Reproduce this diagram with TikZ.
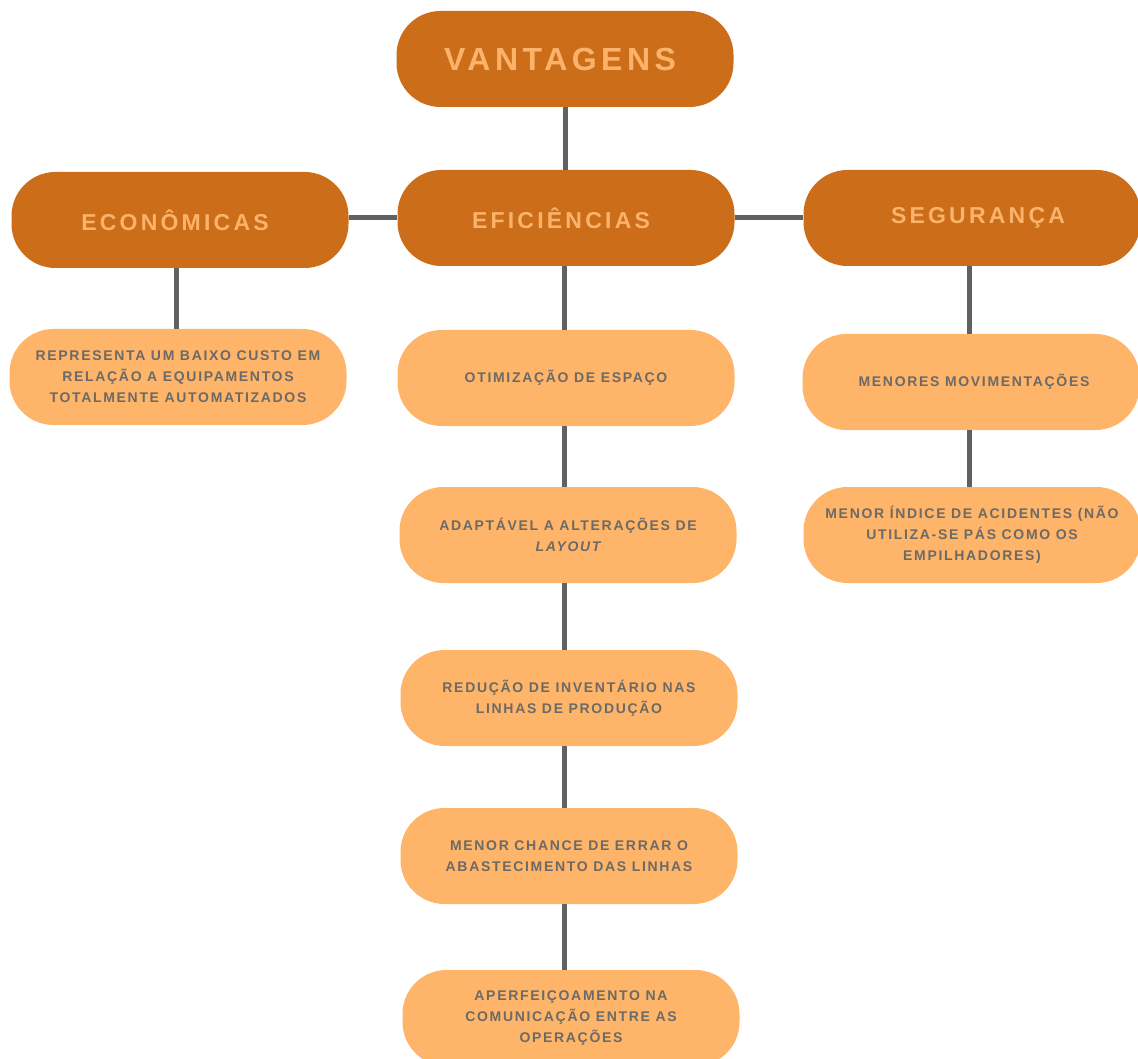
\documentclass[tikz,border=0pt]{standalone}
\usepackage{fontspec}
\newfontfamily\headfam[LetterSpace=14]{Liberation Sans}
\newfontfamily\itemfam[LetterSpace=12]{Liberation Sans}
\definecolor{darkor}{HTML}{CC6D19}
\definecolor{lightor}{HTML}{FEB469}
\definecolor{headtxt}{HTML}{FBB36C}
\definecolor{itemtxt}{HTML}{6C6A66}
\definecolor{linkcol}{HTML}{616161}
% pull the tracked heading text back to the optical centre
\newcommand{\trackfix}{\hspace*{10pt}}
\tikzset{
  pill/.style={rounded corners=44pt, minimum width=337pt, minimum height=96pt, inner sep=0pt, align=center},
  head/.style={pill, fill=darkor, text=headtxt, font=\headfam\bfseries\fontsize{23}{28}\selectfont},
  top/.style={head, font=\headfam\bfseries\fontsize{32}{38}\selectfont},
  item/.style={pill, fill=lightor, text=itemtxt, font=\itemfam\bfseries\fontsize{14}{21}\selectfont},
  link/.style={draw=linkcol, line width=5pt}
}
\begin{document}
\begin{tikzpicture}[x=1pt,y=-1pt]
  \useasboundingbox (0,0) rectangle (1138,1059);
  \clip (0,0) rectangle (1138,1059);

  % heading row
  \node[top]  (vant) at (565,59)  {VANTAGENS\trackfix};
  \node[head] (econ) at (180,220) {ECONÔMICAS\trackfix};
  \node[head] (efic) at (566,218) {EFICIÊNCIAS\trackfix};
  \node[head] (segu) at (972,218) {SEGURANÇA\hspace*{-12pt}};

  % economic column
  \node[item] (cust) at (178,377) {REPRESENTA UM BAIXO CUSTO EM\\RELAÇÃO A EQUIPAMENTOS\\TOTALMENTE AUTOMATIZADOS};

  % efficiency column
  \node[item] (otim) at (566,378) {OTIMIZAÇÃO DE ESPAÇO};
  \node[item] (adap) at (568,535) {ADAPTÁVEL A ALTERAÇÕES DE\\\itshape LAYOUT};
  \node[item] (redu) at (569,698) {REDUÇÃO DE INVENTÁRIO NAS\\LINHAS DE PRODUÇÃO};
  \node[item] (erro) at (569,856) {MENOR CHANCE DE ERRAR O\\ABASTECIMENTO DAS LINHAS};
  \node[item] (aper) at (571,1018) {APERFEIÇOAMENTO NA\\COMUNICAÇÃO ENTRE AS\\OPERAÇÕES};

  % safety column
  \node[item] (movi) at (971,382) {MENORES MOVIMENTAÇÕES\hspace*{-6pt}};
  \node[item] (acid) at (972,535) {MENOR ÍNDICE DE ACIDENTES (NÃO\\UTILIZA-SE PÁS COMO OS\\EMPILHADORES)};

  % links
  \draw[link] (vant.south) -- (vant.south |- efic.north);
  \draw[link] (econ.east |- efic.west) -- (efic.west);
  \draw[link] (efic.east) -- (segu.west);
  \draw[link] ([xshift=-4pt]econ.south) -- ([xshift=-4pt]econ.south |- cust.north);
  \draw[link] ([xshift=-2pt]efic.south) -- ([xshift=-2pt]efic.south |- otim.north);
  \draw[link] ([xshift=-2pt]otim.south) -- ([xshift=-2pt]otim.south |- adap.north);
  \draw[link] ([xshift=-4pt]adap.south) -- ([xshift=-4pt]adap.south |- redu.north);
  \draw[link] ([xshift=-5pt]redu.south) -- ([xshift=-5pt]redu.south |- erro.north);
  \draw[link] ([xshift=-5pt]erro.south) -- ([xshift=-5pt]erro.south |- aper.north);
  \draw[link] ([xshift=-3pt]segu.south) -- ([xshift=-3pt]segu.south |- movi.north);
  \draw[link] ([xshift=-2pt]movi.south) -- ([xshift=-2pt]movi.south |- acid.north);
\end{tikzpicture}
\end{document}
